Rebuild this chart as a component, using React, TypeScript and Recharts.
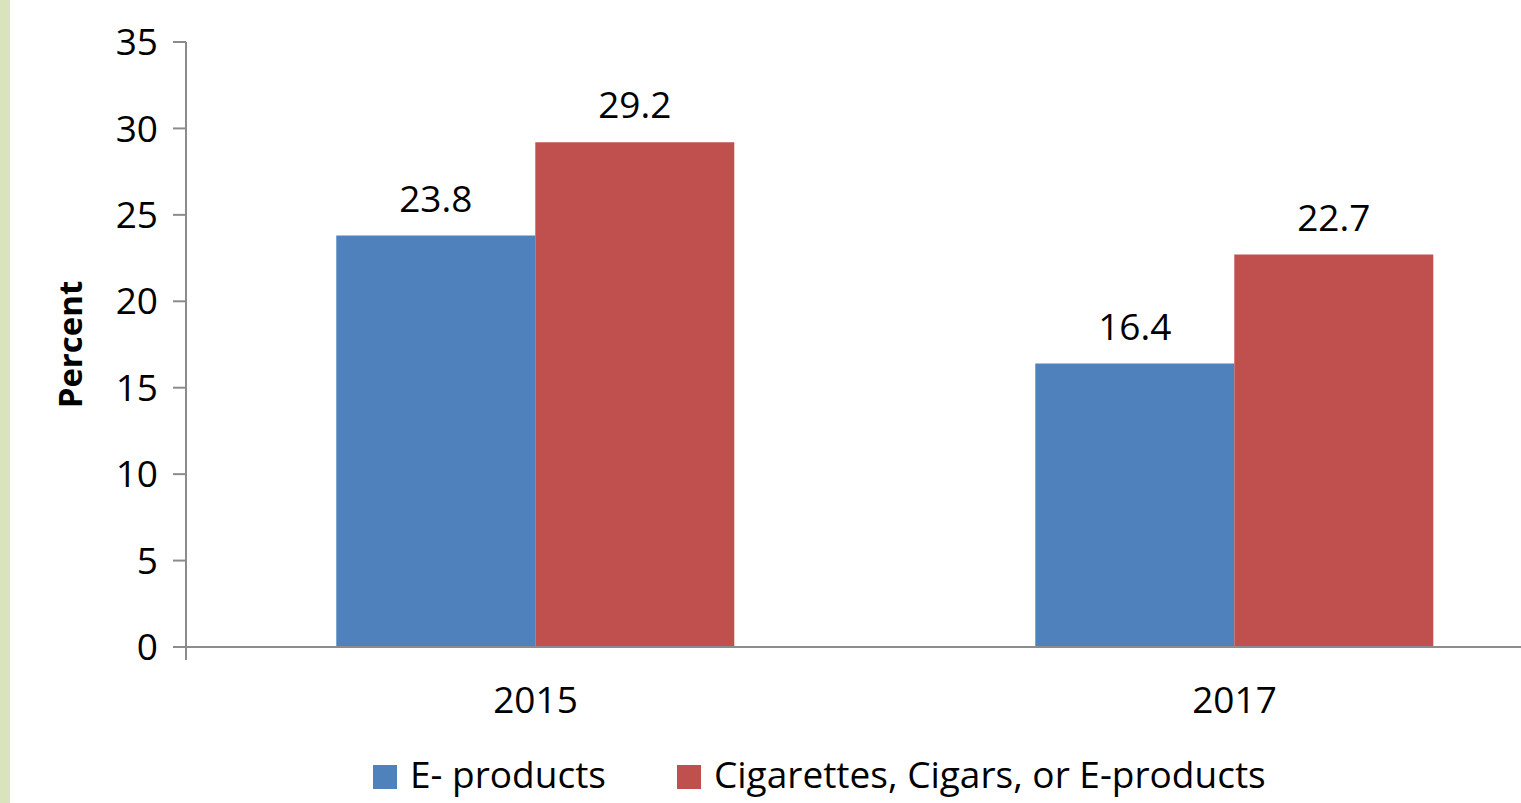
import { Bar, BarChart, LabelList, Legend, XAxis, YAxis } from "recharts"

const years = ["2015", "2017"]
const eProducts = [23.8, 16.4]
const anyProducts = [29.2, 22.7]
const yTicks = [0, 5, 10, 15, 20, 25, 30, 35]
const seriesNames = ["E- products", "Cigarettes, Cigars, or E-products"]

const data = years.map((year, i) => ({
    year,
    eProducts: eProducts[i],
    anyProducts: anyProducts[i],
}))

// category boundaries, used for the tick marks between the years
const bounds = years.map((_, i) => i).concat(years.length)

const axisColor = "#8c8c8c"

const renderLegend = (props: any) => {
    const items = [...(props.payload || [])].sort(
        (a: any, b: any) => seriesNames.indexOf(a.value) - seriesNames.indexOf(b.value)
    )
    return (
        <div style={{ display: "flex", alignItems: "flex-start", paddingLeft: 373, fontSize: 37, lineHeight: "37px", color: "#000" }}>
            {items.map((entry: any) => (
                <div key={entry.value} style={{ display: "flex", alignItems: "flex-start", marginRight: 71 }}>
                    <span style={{ width: 24, height: 24, background: entry.color, marginTop: 10, marginRight: 13 }} />
                    <span>{entry.value}</span>
                </div>
            ))}
        </div>
    )
}

export default function App() {
    return (
        <div style={{ position: "fixed", left: 0, top: 0, width: 1521, height: 803, overflow: "hidden", background: "#fff", fontFamily: "'Open Sans', sans-serif" }}>
            <div style={{ position: "absolute", left: 0, top: 0, width: 10, height: 803, background: "#d9e4bf" }} />
            <BarChart
                width={1600}
                height={803}
                data={data}
                margin={{ top: 42, right: 16, bottom: 22, left: 0 }}
                barCategoryGap="21.5%"
                barGap={0}
            >
                <XAxis
                    xAxisId="bounds"
                    type="number"
                    domain={[0, years.length]}
                    allowDataOverflow
                    ticks={bounds}
                    height={1}
                    tickSize={13}
                    tickFormatter={() => ""}
                    stroke={axisColor}
                    strokeWidth={2}
                />
                <XAxis
                    xAxisId="cat"
                    dataKey="year"
                    height={89}
                    axisLine={false}
                    tickLine={false}
                    tickSize={0}
                    tickMargin={39}
                    tick={{ fill: "#000", fontSize: 37 }}
                />
                <YAxis
                    width={186}
                    domain={[0, 35]}
                    ticks={yTicks}
                    tickSize={13}
                    tickMargin={15}
                    stroke={axisColor}
                    strokeWidth={2}
                    tick={{ fill: "#000", fontSize: 37 }}
                    label={{ value: "Percent", angle: -90, position: "insideLeft", offset: 70, style: { textAnchor: "middle" }, fontSize: 33, fontWeight: 700, fill: "#000" }}
                />
                <Legend content={renderLegend} wrapperStyle={{ left: 0, top: 755, width: 1521, height: 44 }} />
                <Bar xAxisId="cat" dataKey="eProducts" name={seriesNames[0]} fill="#4f81bd" isAnimationActive={false}>
                    <LabelList dataKey="eProducts" position="top" offset={24} fill="#000" fontSize={37} />
                </Bar>
                <Bar xAxisId="cat" dataKey="anyProducts" name={seriesNames[1]} fill="#c0504d" isAnimationActive={false}>
                    <LabelList dataKey="anyProducts" position="top" offset={24} fill="#000" fontSize={37} />
                </Bar>
            </BarChart>
        </div>
    )
}
